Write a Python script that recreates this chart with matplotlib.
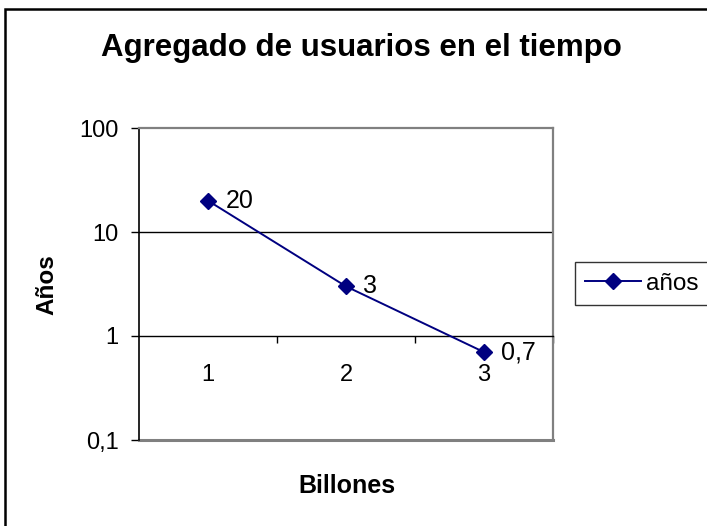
import matplotlib.pyplot as plt
from matplotlib.patches import Rectangle
from matplotlib.ticker import FixedLocator, FuncFormatter, NullLocator

plt.rcParams['font.family'] = ['Liberation Sans', 'DejaVu Sans']

# datos
billones = [1, 2, 3]
anios = [20, 3, 0.7]
etiquetas = ['20', '3', '0,7']
ticks_y = [0.1, 1, 10, 100]

azul = '#000080'
gris = '#808080'

W, H = 707, 526
fig = plt.figure(figsize=(W / 100, H / 100), dpi=100)
ax = fig.add_axes([139 / W, 86 / H, 414 / W, 312 / H])

ax.set_yscale('log')
ax.set_ylim(0.1, 100)
ax.set_xlim(0.5, 3.5)

# linea de datos con rombos
ax.plot(billones, anios, color=azul, lw=1.4, marker='D', ms=8.5,
        mfc=azul, mec=azul, label='años', zorder=5, clip_on=False)
for x, y, t in zip(billones, anios, etiquetas):
    ax.annotate(t, (x, y), xytext=(12.5, 0), textcoords='offset points',
                va='center', ha='left', fontsize=18)

# bordes y cuadricula
for lado in ['top', 'right']:
    ax.spines[lado].set_color(gris)
    ax.spines[lado].set_linewidth(1.6)
ax.spines['left'].set_color('black')
ax.spines['left'].set_linewidth(1.2)
ax.spines['bottom'].set_position(('data', 1))
ax.spines['bottom'].set_color('black')
ax.spines['bottom'].set_linewidth(1.0)
ax.axhline(0.1, color=gris, lw=2.2, clip_on=False)
ax.axhline(10, color='black', lw=1.0)

# eje y
ax.yaxis.set_major_locator(FixedLocator(ticks_y))
ax.yaxis.set_minor_locator(NullLocator())
ax.yaxis.set_major_formatter(FuncFormatter(lambda v, p: ('%g' % v).replace('.', ',')))
ax.tick_params(axis='y', which='major', length=5.5, width=1, direction='out',
               labelsize=17, pad=9)

# eje x
ax.xaxis.set_major_locator(FixedLocator(billones))
ax.xaxis.set_minor_locator(FixedLocator([1.5, 2.5, 3.5]))
ax.tick_params(axis='x', which='major', length=0, labelsize=17, pad=20.5)
ax.tick_params(axis='x', which='minor', length=5, width=1, direction='out')

# titulos
fig.text(361 / W, 1 - 56 / H, 'Agregado de usuarios en el tiempo', fontsize=22.5,
         fontweight='bold', ha='center', va='baseline')
fig.text(47 / W, 1 - 285 / H, 'Años', fontsize=17.5, fontweight='bold',
         rotation=90, ha='center', va='center')
fig.text(347 / W, 1 - 493 / H, 'Billones', fontsize=18, fontweight='bold',
         ha='center', va='baseline')

leg = fig.legend(loc='center left', bbox_to_anchor=(575 / W, 1 - 283.5 / H),
                 fontsize=17.5, frameon=True, fancybox=False, edgecolor='black',
                 handlelength=2.3, handletextpad=0.2, borderpad=0.42,
                 borderaxespad=0)
leg.get_frame().set_linewidth(1.0)

# marco exterior (solo se ven los lados izquierdo y superior)
fig.patches.append(Rectangle((5 / W, -10 / H), 720 / W, (H + 10 - 9) / H,
                             transform=fig.transFigure, fill=False,
                             edgecolor='black', lw=1.8, clip_on=False))

fig.savefig('out.png', dpi=100)
